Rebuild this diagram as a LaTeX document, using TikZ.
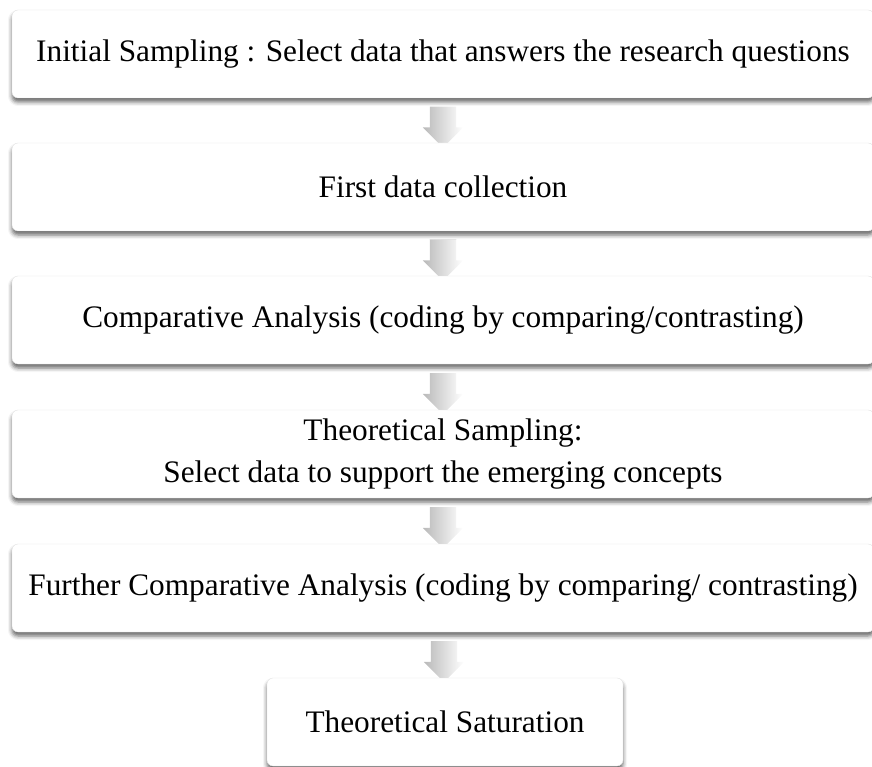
\documentclass[tikz,border=0pt]{standalone}
\usepackage{fontspec}
\setmainfont{Liberation Serif}
\usetikzlibrary{shapes.arrows,shadows.blur}
\pgfdeclarelayer{background}
\pgfsetlayers{background,main}

\tikzset{
  stage/.style={rectangle, rounded corners=6pt, draw=gray!22, fill=white,
    minimum height=88pt, align=center, inner sep=0pt,
    font=\fontsize{31.3}{42}\selectfont,
    blur shadow={shadow xshift=0pt, shadow yshift=-4pt, shadow blur radius=4pt, shadow opacity=60}},
  widestage/.style={stage, minimum width=862pt},
  gaparrow/.style={single arrow, shape border rotate=270, minimum height=41pt,
    inner xsep=13pt, inner ysep=0pt, single arrow head extend=7pt,
    left color=gray!55, middle color=gray!25, right color=white, draw=none}
}

\begin{document}
\begin{tikzpicture}[x=1pt, y=-1pt]
  \useasboundingbox (0,0) rectangle (872,767);
  \node[widestage] (init) at (443,54) {Initial Sampling : Select data that answers the research questions};
  \node[widestage] (first) at (443,187) {First data collection};
  \node[widestage] (comp) at (443,320) {Comparative Analysis (coding by comparing/contrasting)};
  \node[widestage] (theo) at (443,454) {Theoretical Sampling:\\Select data to support the emerging concepts};
  \node[widestage] (further) at (443,588) {Further Comparative Analysis (coding by comparing/ contrasting)};
  \node[stage, minimum width=356pt] (sat) at (445,722) {Theoretical Saturation};
  \begin{pgfonlayer}{background}
    \foreach \a/\b in {init/first, first/comp, comp/theo, theo/further, further/sat}
      \path (\a.south) -- (\b.north) node[midway, gaparrow] {};
  \end{pgfonlayer}
\end{tikzpicture}
\end{document}
